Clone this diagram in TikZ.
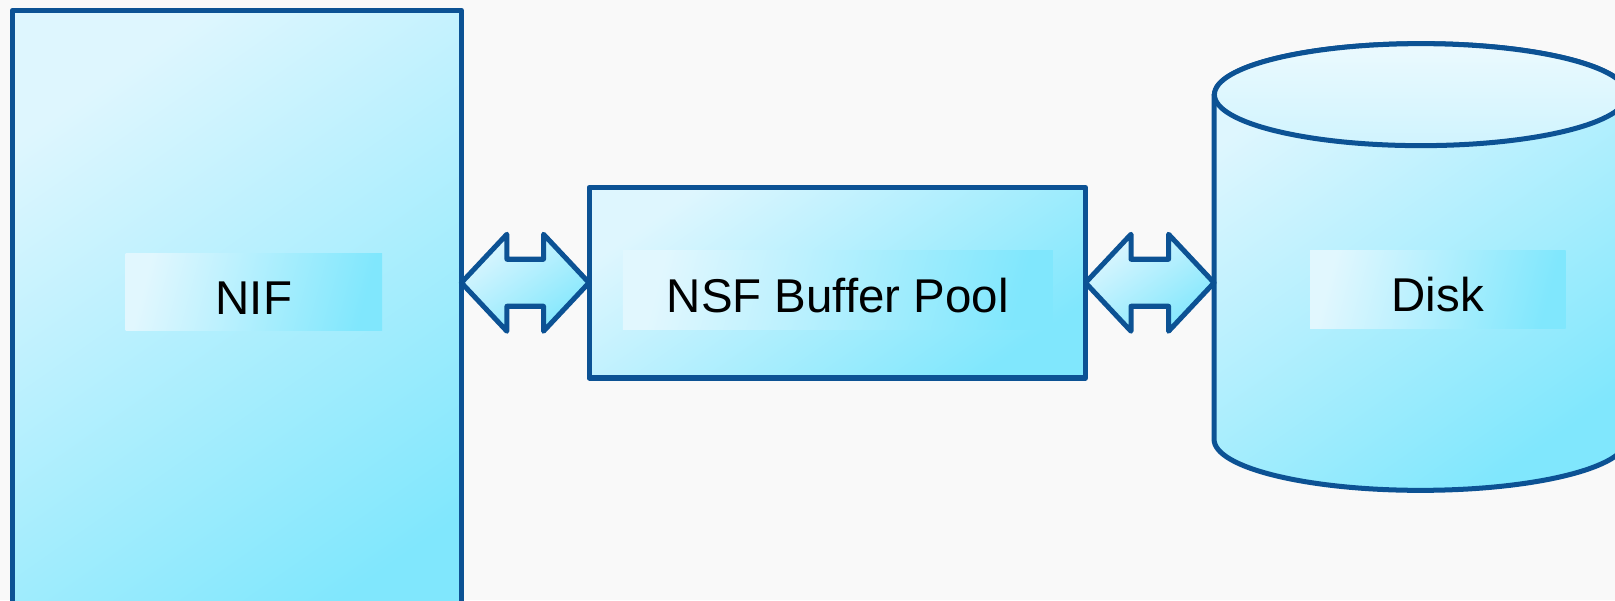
\documentclass[tikz,border=0pt]{standalone}
\usepackage{fontspec}
\setmainfont{Liberation Sans}
\usetikzlibrary{calc}

\definecolor{edgeblue}{RGB}{12,82,148}
\definecolor{paleblue}{RGB}{222,246,254}
\definecolor{skyblue}{RGB}{128,231,253}
\definecolor{backgray}{RGB}{249,249,249}

\tikzset{
  block/.style={draw=edgeblue, line width=2.85pt, line join=round, outer sep=0pt,
    top color=paleblue, bottom color=skyblue, shading angle=35},
  tag/.style={inner sep=0pt, outer sep=0pt,
    top color=paleblue!90!white, bottom color=skyblue, shading angle=75,
    text height=0.89cm, text depth=0pt,
    font=\fontsize{27}{30}\selectfont}
}

\begin{document}
\begin{tikzpicture}
\useasboundingbox (0,0) rectangle (32.3,12);
\fill[backgray] (0,0) rectangle (32.3,12);
\node[block, minimum width=8.98cm, minimum height=12.8cm] (nif) at (4.738,5.394) {};
\node[block, minimum width=9.93cm, minimum height=3.81cm] (nsf) at (16.745,6.345) {};
\node[minimum width=8.256cm, minimum height=6.88cm, inner sep=0pt] (disk) at (28.416,6.66) {};
\draw[block] (disk.north west) -- (disk.south west)
  arc[start angle=180, end angle=360, x radius=4.128cm, y radius=1.02cm]
  -- (disk.north east)
  arc[start angle=0, end angle=180, x radius=4.128cm, y radius=1.02cm] -- cycle;
\draw[block, top color=paleblue!60!white, bottom color=paleblue!85!skyblue] (disk.north) ellipse [x radius=4.128cm, y radius=1.02cm]; %top of the disk
\coordinate (atip) at (nif.east |- nsf.west);
\coordinate (btip) at (disk.west |- nsf.east);
\draw[block] (atip) -- ++(0.91,0.97) -- ++(0,-0.5) -- ($(nsf.west)+(-0.91,0.47)$) -- ++(0,0.5)
  -- (nsf.west) -- ++(-0.91,-0.97) -- ++(0,0.5) -- ($(atip)+(0.91,-0.47)$) -- ++(0,-0.5) -- cycle;
\draw[block] (nsf.east) -- ++(0.91,0.97) -- ++(0,-0.5) -- ($(btip)+(-0.91,0.47)$) -- ++(0,0.5)
  -- (btip) -- ++(-0.91,-0.97) -- ++(0,0.5) -- ($(nsf.east)+(0.91,-0.47)$) -- ++(0,-0.5) -- cycle;
\node[tag, minimum width=5.13cm, minimum height=1.54cm] (niflabel) at (5.078,6.16) {NIF};
\node[tag, minimum width=8.6cm, minimum height=1.59cm] (nsflabel) at (16.758,6.204) {NSF Buffer Pool};
\node[tag, minimum width=5.11cm, minimum height=1.57cm] (disklabel) at (28.756,6.214) {Disk};
\end{tikzpicture}
\end{document}
